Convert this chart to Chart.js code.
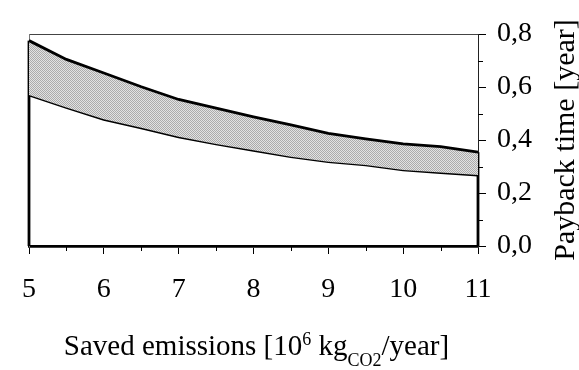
<!DOCTYPE html>
<html>
<head>
<meta charset="utf-8">
<script src="https://cdn.jsdelivr.net/npm/chart.js@4"></script>
<style>
  body { margin: 0; background: #fff; }
</style>
</head>
<body>
<canvas id="payback" width="579" height="370"></canvas>
<script>
// valeurs
var emissions = [5, 5.5, 6, 6.5, 7, 7.5, 8, 8.5, 9, 9.5, 10, 10.5, 11];
var paybackHigh = [0.775, 0.704, 0.653, 0.601, 0.553, 0.520, 0.487, 0.457, 0.425, 0.404, 0.385, 0.375, 0.354];
var paybackLow = [0.570, 0.523, 0.478, 0.446, 0.412, 0.385, 0.361, 0.337, 0.318, 0.306, 0.287, 0.277, 0.268];
var xRange = [5, 11];
var yRange = [0, 0.8];
var yTitle = 'Payback time [year]';

var serif = "'Liberation Serif', 'Times New Roman', serif";
Chart.defaults.font.family = serif;
Chart.defaults.color = '#000';

function pts(xs, ys) {
  return xs.map(function (x, i) { return { x: x, y: ys[i] }; });
}
var last = emissions.length - 1;

// petit motif gris tramé pour la bande
var tile = document.createElement('canvas');
tile.width = 2; tile.height = 2;
var tctx = tile.getContext('2d');
tctx.fillStyle = '#e2e2e2'; tctx.fillRect(0, 0, 2, 2);
tctx.fillStyle = '#ababab'; tctx.fillRect(0, 0, 1, 1); tctx.fillRect(1, 1, 1, 1);
var hatch = tctx.createPattern(tile, 'repeat');

// petites graduations (demi pas) + titres
var extras = {
  id: 'extras',
  afterDraw: function (chart) {
    var ctx = chart.ctx;
    var sx = chart.scales.x, sy = chart.scales.y;
    var area = chart.chartArea;
    ctx.save();
    ctx.strokeStyle = '#000';
    ctx.lineWidth = 1;
    for (var i = 0; i < sx.ticks.length - 1; i++) {
      var px = Math.round(sx.getPixelForValue((sx.ticks[i].value + sx.ticks[i + 1].value) / 2)) + 0.5;
      ctx.beginPath(); ctx.moveTo(px, area.bottom); ctx.lineTo(px, area.bottom + 5); ctx.stroke();
    }
    for (var j = 0; j < sy.ticks.length - 1; j++) {
      var py = Math.round(sy.getPixelForValue((sy.ticks[j].value + sy.ticks[j + 1].value) / 2)) + 0.5;
      ctx.beginPath(); ctx.moveTo(area.right, py); ctx.lineTo(area.right + 5, py); ctx.stroke();
    }

    // titre X avec exposant et indice
    var parts = [
      { t: 'Saved emissions [10', size: 29, dy: 0 },
      { t: '6', size: 18, dy: -10 },
      { t: ' kg', size: 29, dy: 0 },
      { t: 'CO2', size: 18, dy: 11 },
      { t: '/year]', size: 29, dy: 0 }
    ];
    var total = 0;
    parts.forEach(function (p) {
      ctx.font = p.size + 'px ' + serif;
      p.w = ctx.measureText(p.t).width;
      total += p.w;
    });
    var x0 = (area.left + area.right) / 2 - total / 2 + 3;
    var base = 355;
    ctx.fillStyle = '#000';
    ctx.textBaseline = 'alphabetic';
    ctx.textAlign = 'left';
    parts.forEach(function (p) {
      ctx.font = p.size + 'px ' + serif;
      ctx.fillText(p.t, x0, base + p.dy);
      x0 += p.w;
    });

    // titre Y, lu de bas en haut
    ctx.translate(574, (area.top + area.bottom) / 2);
    ctx.rotate(-Math.PI / 2);
    ctx.font = '30px ' + serif;
    ctx.textAlign = 'center';
    ctx.fillText(yTitle, 0, 0);
    ctx.restore();
  }
};

var canvas = document.getElementById('payback');
new Chart(canvas, {
  type: 'line',
  data: {
    datasets: [{
      data: pts(emissions, paybackHigh),
      borderColor: '#000',
      borderWidth: 2.8,
      backgroundColor: hatch,
      fill: '+1',
      pointRadius: 0,
      tension: 0,
      clip: 4
    }, {
      data: pts(emissions, paybackLow),
      borderColor: '#000',
      borderWidth: 2.8,
      fill: false,
      pointRadius: 0,
      tension: 0,
      clip: 4
    }, {
      data: [{ x: emissions[0], y: yRange[0] }, { x: emissions[0], y: paybackHigh[0] }],
      borderColor: '#000',
      borderWidth: 2.8,
      fill: false,
      pointRadius: 0,
      clip: 4
    }, {
      data: [{ x: emissions[last], y: yRange[0] }, { x: emissions[last], y: paybackHigh[last] }],
      borderColor: '#000',
      borderWidth: 2.8,
      fill: false,
      pointRadius: 0,
      clip: 4
    }]
  },
  options: {
    responsive: false,
    animation: false,
    events: [],
    layout: { padding: { left: 29, top: 34, right: 0, bottom: 0 } },
    plugins: { legend: { display: false }, tooltip: { enabled: false } },
    scales: {
      x: {
        type: 'linear', position: 'bottom',
        min: xRange[0], max: xRange[1],
        ticks: { stepSize: 1, font: { size: 28 }, padding: 19, color: '#000' },
        grid: { drawOnChartArea: false, tickLength: 8, tickColor: '#000', tickWidth: 1 },
        border: { color: '#000', width: 2.8 },
        afterFit: function (s) { s.height = 124; }
      },
      xTop: {
        type: 'linear', position: 'top',
        min: xRange[0], max: xRange[1],
        ticks: { display: false },
        grid: { drawOnChartArea: false, drawTicks: false },
        border: { color: '#444', width: 1 },
        afterFit: function (s) { s.height = 0; }
      },
      yLeft: {
        type: 'linear', position: 'left',
        min: yRange[0], max: yRange[1],
        ticks: { display: false },
        grid: { drawOnChartArea: false, drawTicks: false },
        border: { color: '#777', width: 1 },
        afterFit: function (s) { s.width = 0; }
      },
      y: {
        type: 'linear', position: 'right',
        min: yRange[0], max: yRange[1],
        ticks: {
          stepSize: 0.2, font: { size: 28 }, padding: 11, color: '#000',
          callback: function (v) { return v.toFixed(1).replace('.', ','); }
        },
        grid: { drawOnChartArea: false, tickLength: 8, tickColor: '#000', tickWidth: 1 },
        border: { color: '#222', width: 1 },
        afterFit: function (s) { s.width = 101; }
      }
    }
  },
  plugins: [extras]
});
</script>
</body>
</html>
